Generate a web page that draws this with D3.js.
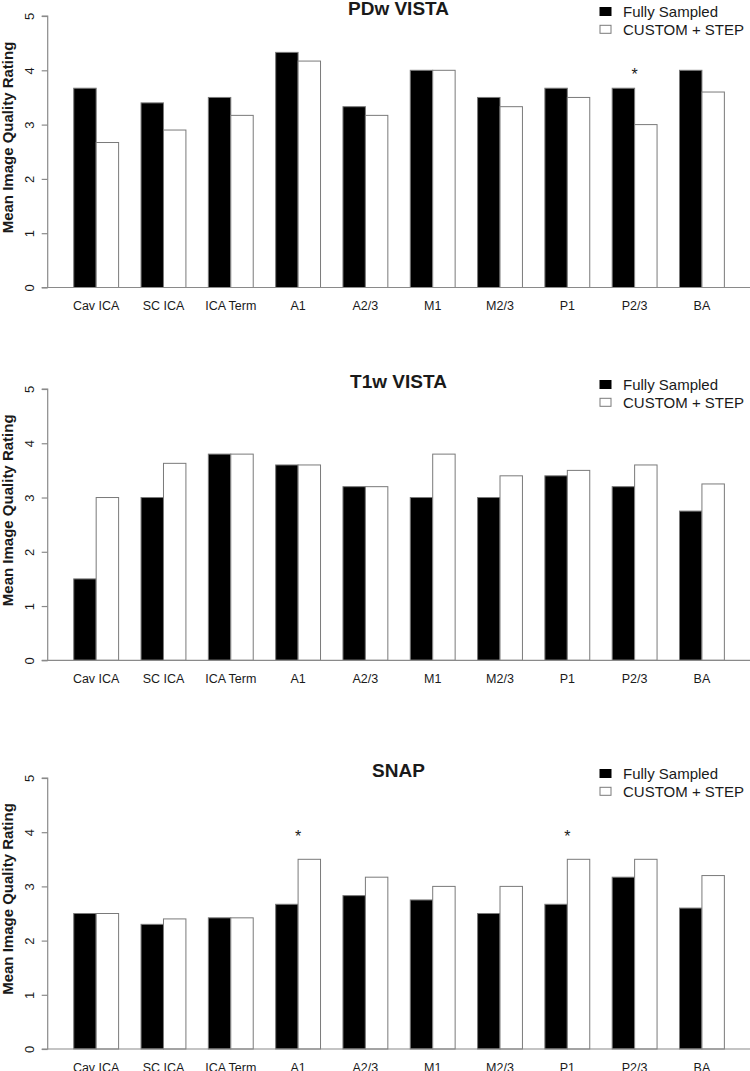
<!DOCTYPE html>
<html>
<head>
<meta charset="utf-8">
<script src="https://cdn.jsdelivr.net/npm/d3@7"></script>
<style>
  html, body { margin: 0; padding: 0; background: #fff; }
  svg { display: block; font-family: "Liberation Sans", Arial, sans-serif; }
</style>
</head>
<body>
<svg id="chart" width="750" height="1071"></svg>
<script>
const categories = ["Cav ICA", "SC ICA", "ICA Term", "A1", "A2/3", "M1", "M2/3", "P1", "P2/3", "BA"];
const seriesNames = ["Fully Sampled", "CUSTOM + STEP"];
const yTicks = [0, 1, 2, 3, 4, 5];

const pdwFull   = [3.67, 3.40, 3.50, 4.33, 3.33, 4.00, 3.50, 3.67, 3.67, 4.00];
const pdwCustom = [2.67, 2.90, 3.17, 4.17, 3.17, 4.00, 3.33, 3.50, 3.00, 3.60];
const t1Full    = [1.50, 3.00, 3.80, 3.60, 3.20, 3.00, 3.00, 3.40, 3.20, 2.75];
const t1Custom  = [3.00, 3.63, 3.80, 3.60, 3.20, 3.80, 3.40, 3.50, 3.60, 3.25];
const snapFull  = [2.50, 2.30, 2.42, 2.67, 2.83, 2.75, 2.50, 2.67, 3.17, 2.60];
const snapCustom= [2.50, 2.40, 2.42, 3.50, 3.17, 3.00, 3.00, 3.50, 3.50, 3.20];

const pdwStars  = ["P2/3"];
const t1Stars   = [];
const snapStars = ["A1", "P1"];
const starValue = 4;

const panels = [
  { title: "PDw VISTA", full: pdwFull, custom: pdwCustom, stars: pdwStars, y0: 287.5, y5: 16 },
  { title: "T1w VISTA", full: t1Full, custom: t1Custom, stars: t1Stars, y0: 660.3, y5: 389 },
  { title: "SNAP", full: snapFull, custom: snapCustom, stars: snapStars, y0: 1049, y5: 778 }
];

const svg = d3.select("#chart");
const axisX = 47.7;
const textColor = "#1a1a1a";
const axisColor = "#8a8a8a";
const barStroke = "#7a7a7a";
const colors = ["#000000", "#ffffff"];

const x = d3.scaleBand().domain(categories).range([51.3, 746.8]).paddingInner(1/3).paddingOuter(1/3);
const xs = d3.scaleBand().domain([0, 1]).range([0, x.bandwidth()]);

panels.forEach(p => {
  const g = svg.append("g");
  const y = d3.scaleLinear().domain([0, 5]).range([p.y0, p.y5]);

  // bars
  const rows = categories.map((c, i) => ({ cat: c, vals: [p.full[i], p.custom[i]] }));
  const grp = g.selectAll("g.grp").data(rows).join("g")
    .attr("transform", d => `translate(${x(d.cat)},0)`);
  grp.selectAll("rect").data(d => d.vals.map((v, k) => ({ v, k }))).join("rect")
    .attr("x", d => xs(d.k))
    .attr("width", xs.bandwidth())
    .attr("y", d => y(d.v))
    .attr("height", d => y(0) - y(d.v))
    .attr("fill", d => colors[d.k])
    .attr("stroke", barStroke)
    .attr("stroke-width", 1);

  // baseline
  g.append("line")
    .attr("x1", axisX).attr("x2", 750)
    .attr("y1", y(0)).attr("y2", y(0))
    .attr("stroke", axisColor).attr("stroke-width", 1.2);

  // y axis
  const yAxis = d3.axisLeft(y).tickValues(yTicks).tickSize(6).tickPadding(0).tickFormat(d3.format("d"));
  const ya = g.append("g").attr("transform", `translate(${axisX},0)`).call(yAxis);
  ya.attr("font-family", null);
  ya.select(".domain").attr("stroke", axisColor).attr("stroke-width", 1.2).attr("d", `M-6,${y(5)}H0V${y(0)}H-6`);
  ya.selectAll(".tick line").attr("stroke", axisColor).attr("stroke-width", 1.2);
  ya.selectAll(".tick text")
    .attr("fill", textColor)
    .attr("font-size", 13)
    .attr("x", 0).attr("y", 0).attr("dy", "0")
    .attr("text-anchor", "middle")
    .attr("transform", "translate(-13.7,0) rotate(-90)");

  // category labels
  g.selectAll("text.cat").data(categories).join("text")
    .attr("class", "cat")
    .attr("x", d => x(d) + x.bandwidth() / 2)
    .attr("y", y(0) + 22.8)
    .attr("text-anchor", "middle")
    .attr("font-size", 12.5)
    .attr("fill", textColor)
    .text(d => d);

  // y label
  g.append("text")
    .attr("transform", `translate(13.3,${p.y0 - 150}) rotate(-90)`)
    .attr("text-anchor", "middle")
    .attr("font-size", 15)
    .attr("font-weight", "bold")
    .attr("fill", textColor)
    .text("Mean Image Quality Rating");

  // title
  g.append("text")
    .attr("x", 398.5).attr("y", p.y5 - 1)
    .attr("text-anchor", "middle")
    .attr("font-size", 19)
    .attr("font-weight", "bold")
    .attr("fill", textColor)
    .text(p.title);

  // legend
  const lg = g.append("g");
  seriesNames.forEach((s, k) => {
    lg.append("rect")
      .attr("x", 600).attr("y", p.y5 - 8.5 + k * 17.8)
      .attr("width", 11).attr("height", 8)
      .attr("fill", colors[k])
      .attr("stroke", k === 0 ? "#000" : barStroke)
      .attr("stroke-width", 1);
    lg.append("text")
      .attr("x", 623).attr("y", p.y5 + 0.8 + k * 17.8)
      .attr("font-size", 15)
      .attr("fill", textColor)
      .text(s);
  });

  // asterisks
  g.selectAll("text.star").data(p.stars).join("text")
    .attr("class", "star")
    .attr("x", d => x(d) + x.bandwidth() / 2)
    .attr("y", y(starValue) + 10)
    .attr("text-anchor", "middle")
    .attr("font-size", 16)
    .attr("fill", textColor)
    .text("*");
});
</script>
</body>
</html>
